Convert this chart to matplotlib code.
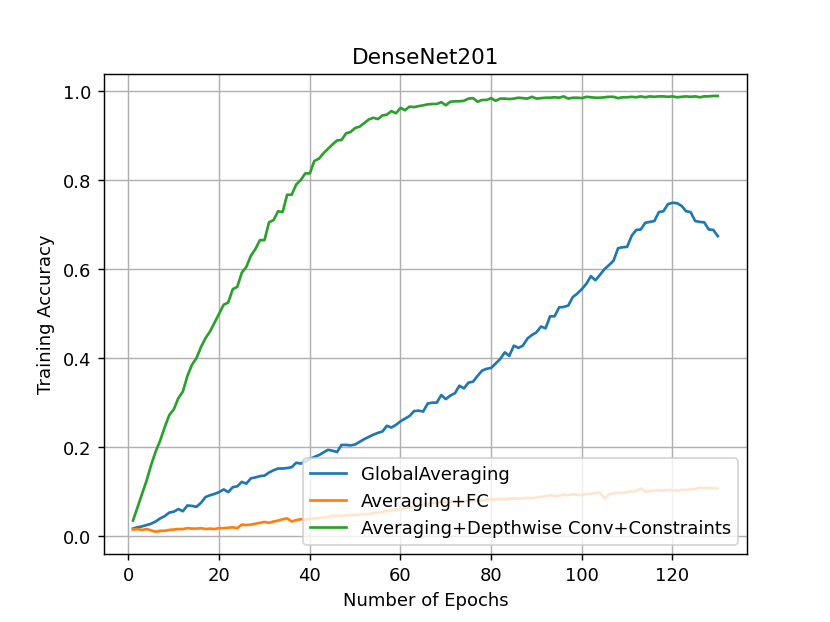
import matplotlib
import matplotlib.pyplot as plt

matplotlib.use("Agg")

# training accuracy per epoch
global_avg = [
    0.017, 0.020, 0.022, 0.025, 0.028, 0.033, 0.040, 0.045, 0.053, 0.055,
    0.061, 0.056, 0.069, 0.068, 0.066, 0.075, 0.088, 0.092, 0.095, 0.099,
    0.105, 0.099, 0.110, 0.112, 0.122, 0.118, 0.130, 0.132, 0.135, 0.136,
    0.143, 0.148, 0.152, 0.152, 0.153, 0.155, 0.165, 0.163, 0.168, 0.173,
    0.178, 0.182, 0.188, 0.194, 0.192, 0.189, 0.205, 0.205, 0.204, 0.206,
    0.212, 0.218, 0.223, 0.228, 0.232, 0.235, 0.248, 0.244, 0.250, 0.258,
    0.264, 0.270, 0.281, 0.282, 0.280, 0.298, 0.300, 0.300, 0.317, 0.308,
    0.316, 0.321, 0.338, 0.332, 0.345, 0.347, 0.360, 0.372, 0.376, 0.378,
    0.388, 0.398, 0.413, 0.405, 0.428, 0.423, 0.428, 0.444, 0.452, 0.458,
    0.471, 0.467, 0.494, 0.494, 0.514, 0.515, 0.518, 0.537, 0.545, 0.555,
    0.567, 0.584, 0.575, 0.587, 0.600, 0.609, 0.619, 0.647, 0.649, 0.650,
    0.675, 0.688, 0.689, 0.704, 0.706, 0.708, 0.728, 0.730, 0.746, 0.749,
    0.748, 0.742, 0.730, 0.728, 0.708, 0.706, 0.705, 0.689, 0.688, 0.674,
]
avg_fc = [
    0.015, 0.016, 0.014, 0.016, 0.013, 0.010, 0.012, 0.012, 0.014, 0.015,
    0.016, 0.016, 0.018, 0.017, 0.017, 0.018, 0.016, 0.017, 0.016, 0.018,
    0.018, 0.019, 0.020, 0.018, 0.026, 0.025, 0.026, 0.028, 0.030, 0.032,
    0.030, 0.033, 0.035, 0.038, 0.040, 0.033, 0.036, 0.038, 0.037, 0.039,
    0.040, 0.041, 0.042, 0.043, 0.046, 0.046, 0.046, 0.047, 0.047, 0.048,
    0.048, 0.050, 0.049, 0.052, 0.053, 0.055, 0.056, 0.058, 0.060, 0.060,
    0.063, 0.064, 0.065, 0.068, 0.070, 0.072, 0.074, 0.076, 0.078, 0.077,
    0.077, 0.079, 0.078, 0.078, 0.080, 0.079, 0.081, 0.080, 0.082, 0.083,
    0.083, 0.084, 0.083, 0.084, 0.085, 0.084, 0.085, 0.086, 0.085, 0.087,
    0.088, 0.090, 0.092, 0.090, 0.091, 0.093, 0.092, 0.094, 0.093, 0.092,
    0.095, 0.095, 0.097, 0.098, 0.085, 0.094, 0.096, 0.098, 0.097, 0.099,
    0.100, 0.102, 0.107, 0.100, 0.101, 0.102, 0.103, 0.102, 0.104, 0.103,
    0.102, 0.104, 0.104, 0.105, 0.106, 0.109, 0.108, 0.108, 0.108, 0.107,
]
depthwise = [
    0.035, 0.065, 0.095, 0.125, 0.160, 0.190, 0.215, 0.245, 0.272, 0.285,
    0.310, 0.325, 0.360, 0.385, 0.400, 0.425, 0.445, 0.460, 0.480, 0.500,
    0.520, 0.525, 0.555, 0.560, 0.592, 0.605, 0.630, 0.645, 0.665, 0.665,
    0.705, 0.710, 0.730, 0.728, 0.767, 0.767, 0.790, 0.800, 0.815, 0.815,
    0.843, 0.848, 0.860, 0.870, 0.880, 0.889, 0.890, 0.905, 0.908, 0.917,
    0.920, 0.928, 0.936, 0.940, 0.937, 0.945, 0.947, 0.955, 0.950, 0.962,
    0.957, 0.965, 0.964, 0.966, 0.968, 0.970, 0.971, 0.971, 0.975, 0.968,
    0.976, 0.977, 0.977, 0.978, 0.983, 0.984, 0.976, 0.980, 0.980, 0.984,
    0.978, 0.983, 0.983, 0.982, 0.983, 0.985, 0.984, 0.983, 0.987, 0.983,
    0.984, 0.985, 0.985, 0.986, 0.985, 0.988, 0.983, 0.985, 0.985, 0.984,
    0.987, 0.986, 0.985, 0.985, 0.986, 0.987, 0.987, 0.984, 0.986, 0.986,
    0.987, 0.986, 0.988, 0.986, 0.988, 0.987, 0.988, 0.988, 0.987, 0.988,
    0.986, 0.987, 0.988, 0.987, 0.988, 0.986, 0.988, 0.988, 0.989, 0.989,
]
epochs = list(range(1, len(global_avg) + 1))
labels = [
    "GlobalAveraging",
    "Averaging+FC",
    "Averaging+Depthwise Conv+Constraints",
]

fig, ax = plt.subplots(figsize=(6.4, 4.8), dpi=129.7)
ax.plot(epochs, global_avg, label=labels[0])
ax.plot(epochs, avg_fc, label=labels[1])
ax.plot(epochs, depthwise, label=labels[2])
ax.set_title("DenseNet201")
ax.set_xlabel("Number of Epochs")
ax.set_ylabel("Training Accuracy")
ax.grid(True)
ax.legend(loc="lower right")
fig.savefig("out.png", dpi=129.7)
